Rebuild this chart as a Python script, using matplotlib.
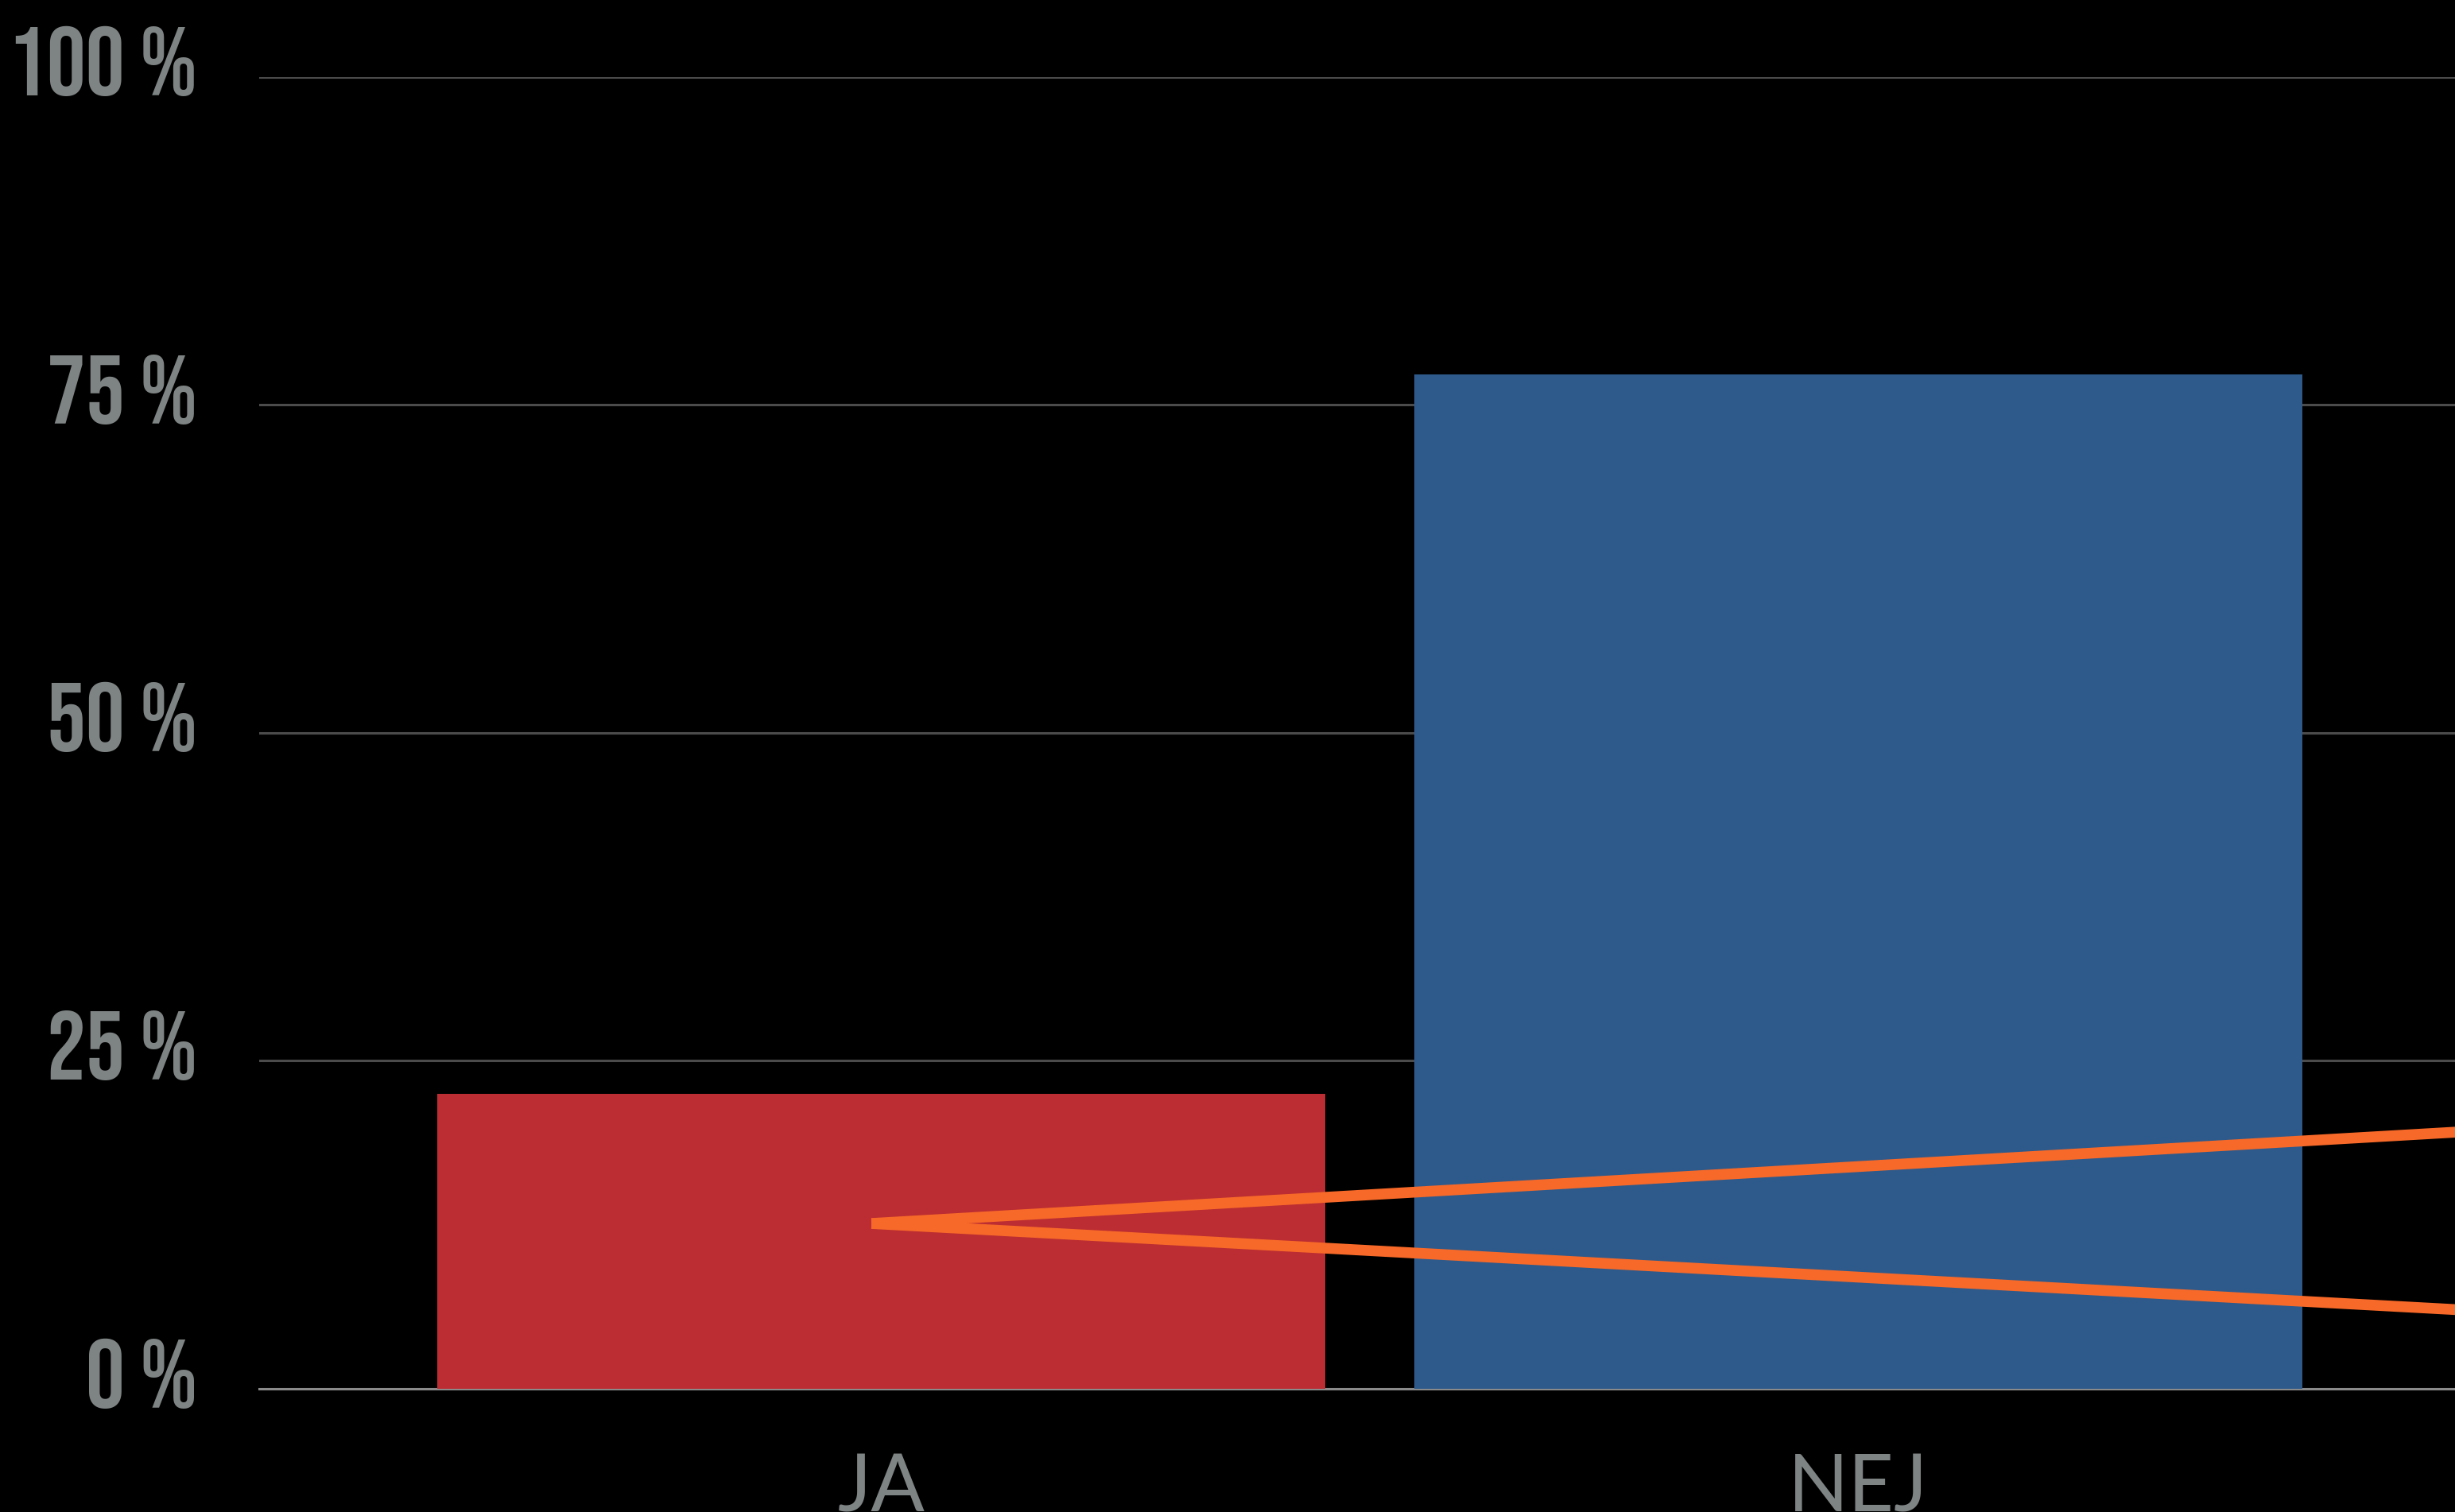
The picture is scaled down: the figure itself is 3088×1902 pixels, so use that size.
import matplotlib
matplotlib.use("Agg")
import matplotlib.pyplot as plt
from matplotlib.transforms import ScaledTranslation

categories = ["JA", "NEJ"]
values = [22.5, 77.3]
bar_colors = ["#BB2D32", "#2E5A8B"]
yticks = [0, 25, 50, 75, 100]
ytick_labels = ["0 %", "25 %", "50 %", "75 %", "100 %"]
# leader (pointer) lines: vertex at JA bar, running off to the right
pointer_upper_x = [-0.01, 1.62]
pointer_upper_y = [12.6, 19.6]
pointer_lower_x = [-0.01, 1.62]
pointer_lower_y = [12.6, 6.0]

DPI = 200
fig = plt.figure(figsize=(3088 / DPI, 1902 / DPI), dpi=DPI, facecolor="black")
ax = fig.add_axes([326 / 3088, 155 / 1902, 1 - 326 / 3088, (1805.3 - 155) / 1902])
ax.set_facecolor("black")

x = list(range(len(categories)))
ax.bar(x, values, width=0.909, color=bar_colors, zorder=2)

ax.plot(pointer_upper_x, pointer_upper_y, color="#F76928", lw=4.9,
        solid_capstyle="butt", zorder=3)
ax.plot(pointer_lower_x, pointer_lower_y, color="#F76928", lw=4.9,
        solid_capstyle="butt", zorder=3)

ax.set_xlim(-0.6367, 1.6107)
ax.set_ylim(0, 100)

ax.set_yticks(yticks)
ax.set_yticklabels(ytick_labels, fontsize=44,
                   color="#7E8383", family=["Bebas Neue", "DejaVu Sans"])
ax.set_xticks(x)
ax.set_xticklabels(categories, fontsize=36, color="#7E8383",
                   family=["Lato", "DejaVu Sans"])

ax.tick_params(axis="both", length=0)
ax.tick_params(axis="y", pad=28)
ax.tick_params(axis="x", pad=29)

ax.yaxis.grid(True, color="#4B4B4B", lw=1.1, zorder=0)
ax.set_axisbelow(True)
for s in ["left", "right", "top"]:
    ax.spines[s].set_visible(False)
ax.spines["bottom"].set_color("#8A8A8A")
ax.spines["bottom"].set_linewidth(1.1)
ax.spines["bottom"].set_zorder(1)

off = ScaledTranslation(0, 20 / DPI, fig.dpi_scale_trans)
for lab in ax.get_yticklabels():
    lab.set_transform(lab.get_transform() + off)

fig.savefig("out.png", dpi=DPI, facecolor="black")
